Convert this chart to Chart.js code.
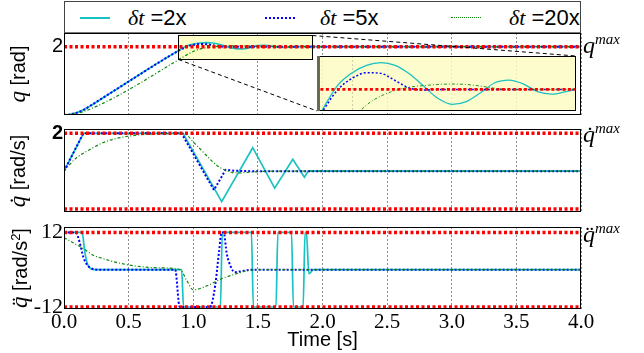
<!DOCTYPE html>
<html>
<head>
<meta charset="utf-8">
<script src="https://cdn.jsdelivr.net/npm/chart.js@4.4.1/dist/chart.umd.min.js"></script>
<style>
  body { margin: 0; width: 644px; height: 353px; position: relative; overflow: hidden; background: #fff;
         font-family: "Liberation Sans", Arial, sans-serif; color: #000; }
  canvas { position: absolute; }
  #legend { position: absolute; left: 64px; top: 1px; width: 517px; height: 33px; box-sizing: border-box;
            border: 1px solid #444; border-bottom: 2px solid #777; }
  .key { position: absolute; top: 15px; width: 30px; height: 0; }
  .lab { position: absolute; top: 3px; font-size: 22px; line-height: 26px; white-space: nowrap; }
  .lab i, .ytitle i, .lim i { font-family: "Liberation Serif", serif; }
  .ytitle { position: absolute; left: 18px; transform: translate(-50%, -50%) rotate(-90deg);
            white-space: nowrap; font-size: 20px; line-height: 22px; }
  .ytitle i { font-size: 23px; }
  .lim { position: absolute; left: 583px; font-family: "Liberation Serif", serif; font-size: 24px; line-height: 24px; }
  .lim sup { font-size: 15px; font-style: italic; vertical-align: 9px; }
</style>
</head>
<body>
<div id="legend">
  <span class="key" style="left:15px;border-top:2px solid #17c2c2"></span>
  <span class="lab" style="left:63px"><i>δt</i> =2x</span>
  <span class="key" style="left:200px;border-top:2px dotted #0000ff"></span>
  <span class="lab" style="left:255px"><i>δt</i> =5x</span>
  <span class="key" style="left:386px;border-top:1.5px dotted #0a8a0a"></span>
  <span class="lab" style="left:444px"><i>δt</i> =20x</span>
</div>

<canvas id="qChart" width="644" height="82" style="left:0;top:33px"></canvas>
<canvas id="qdChart" width="644" height="95" style="left:0;top:117px"></canvas>
<canvas id="qddChart" width="644" height="140" style="left:0;top:213px"></canvas>
<canvas id="inset" width="259" height="55" style="left:317px;top:56px"></canvas>

<div class="ytitle" style="top:74px"><i>q</i> [rad]</div>
<div class="ytitle" style="top:171px"><i>q̇</i> [rad/s]</div>
<div class="ytitle" style="top:268px"><i>q̈</i> [rad/s<sup style="font-size:13px">2</sup>]</div>

<div class="lim" style="top:27px"><i>q</i><sup>max</sup></div>
<div class="lim" style="top:116px"><i>q̇</i><sup>max</sup></div>
<div class="lim" style="top:216px"><i>q̈</i><sup>max</sup></div>

<script>
// time axis
const timeTicks = [0, 0.5, 1, 1.5, 2, 2.5, 3, 3.5, 4];
const seriesNames = ['δt =2x', 'δt =5x', 'δt =20x'];

// joint limits
const qLimits = [2];
const qdLimits = [2, -2];
const qddLimits = [12, -12];

// axis ranges and tick labels
const qRange = [0, 2.4];
const qdRange = [-2.16, 2.23];
const qddRange = [-12.65, 13.75];
const qTicks = [2];
const qdTicks = [2];
const qddTicks = [12, -12];

// zoomed area
const zoomT = [0.88, 1.92];
const zoomQ = [1.64, 2.34];
const insetT = [0.876, 1.785];
const insetQ = [1.903, 2.15];
const insetTicks = [1.0];

// position q
const tPos = [0, 0.05, 0.1, 0.15, 0.2, 0.3, 0.4, 0.5, 0.6, 0.7, 0.8, 0.9, 0.95, 1.0, 1.05, 1.1, 1.15,
              1.2, 1.25, 1.3, 1.35, 1.4, 1.45, 1.5, 1.55, 1.6, 1.65, 1.7, 1.75, 1.8, 1.85, 1.9, 2.0, 4.0];
const q2x = [0, 0.02, 0.07, 0.15, 0.26, 0.50, 0.74, 0.98, 1.22, 1.46, 1.69, 1.92, 2.02, 2.075, 2.108, 2.12, 2.108,
             2.07, 2.015, 1.96, 1.933, 1.945, 1.985, 2.03, 2.042, 2.025, 1.99, 1.979, 1.99, 2.003, 2.006, 2.0, 2.0, 2.0];
const q5x = [0, 0.02, 0.07, 0.15, 0.26, 0.50, 0.74, 0.98, 1.22, 1.46, 1.69, 1.91, 2.0, 2.05, 2.075, 2.072, 2.04,
             2.006, 1.997, 2.0, 2.0, 2.0, 2.0, 2.0, 2.0, 2.0, 2.0, 2.0, 2.0, 2.0, 2.0, 2.0, 2.0, 2.0];
const q20x = [0, 0.012, 0.045, 0.1, 0.17, 0.34, 0.53, 0.74, 0.96, 1.19, 1.42, 1.65, 1.76, 1.86, 1.93, 1.97, 1.995,
              2.01, 2.017, 2.022, 2.024, 2.022, 2.015, 2.005, 1.999, 1.999, 2.0, 2.0, 2.0, 2.0, 2.0, 2.0, 2.0, 2.0];

// velocity qd
const tVel2x = [0, 0.15, 0.92, 1.22, 1.46, 1.63, 1.77, 1.86, 1.89, 4];
const vel2x = [0, 2, 2, -1.61, 1.24, -0.9, 0.63, -0.32, 0, 0];
const tVel5x = [0, 0.15, 0.91, 1.16, 1.25, 1.32, 1.45, 4];
const vel5x = [0, 2, 2, -1.0, 0.07, 0.02, 0, 0];
const tVel20x = [0, 0.05, 0.1, 0.15, 0.2, 0.3, 0.4, 0.5, 0.6, 0.7, 0.8, 0.92, 0.96, 1.0, 1.05, 1.1, 1.15, 1.2,
                 1.25, 1.3, 1.35, 1.45, 1.6, 4];
const vel20x = [0, 0.4, 0.72, 0.95, 1.15, 1.5, 1.72, 1.85, 1.93, 1.97, 1.99, 2, 1.85, 1.55, 1.2, 0.84, 0.5, 0.22,
                0.05, -0.06, -0.09, -0.05, 0, 0];

// acceleration qdd
const tAcc2x = [0, 0.14, 0.16, 0.18, 0.2, 0.23, 0.91, 0.925, 1.21, 1.225, 1.45, 1.465, 1.64, 1.655, 1.76, 1.775,
                1.85, 1.865, 1.875, 1.895, 1.93, 4];
const acc2x = [12, 12, 6, 2, 0.6, 0, 0, -12, -12, 12, 12, -12, -12, 12, 12, -12, -12, 12, 12, -1.3, 0, 0];
const tAcc5x = [0, 0.09, 0.12, 0.15, 0.18, 0.22, 0.26, 0.86, 0.895, 1.13, 1.17, 1.2, 1.22, 1.235, 1.26, 1.29,
                1.32, 1.36, 1.45, 4];
const acc5x = [12, 12, 9, 4, 1.5, 0.3, 0, 0, -12, -12, -5, 6, 12, 12, 5, 1, -0.8, -0.6, 0, 0];
const tAcc20x = [0, 0.05, 0.1, 0.15, 0.23, 0.3, 0.39, 0.52, 0.71, 0.9, 0.95, 1.0, 1.1, 1.22, 1.35, 1.45, 1.55, 4];
const acc20x = [10.3, 9.2, 8.0, 6.8, 4.6, 3.6, 2.5, 1.4, 0.65, 0, -3.5, -6.5, -5.3, -2.9, -1.1, -0.1, 0, 0];

// ---- styles ----
// order: lower is drawn on top (cyan at the back, red limits in front)
const lineStyles = [
  { borderColor: '#17c2c2', borderWidth: 1.7, order: 3 },
  { borderColor: '#0000ff', borderWidth: 2, borderDash: [2, 2], order: 2 },
  { borderColor: '#0a8a0a', borderWidth: 1.2, borderDash: [3, 2, 1, 2], order: 1 }
];
const limitStyle = { borderColor: '#ff0000', borderWidth: 3.5, borderDash: [3, 2.5], order: 0 };

function pts(ts, vs) { return ts.map((t, i) => ({ x: t, y: vs[i] })); }

function buildSets(limits, curves, smooth) {
  const tStart = timeTicks[0], tEnd = timeTicks[timeTicks.length - 1];
  const sets = limits.map(v => Object.assign({ data: [{ x: tStart, y: v }, { x: tEnd, y: v }], pointRadius: 0 }, limitStyle));
  curves.forEach((d, i) => {
    sets.push(Object.assign({
      label: seriesNames[i], data: d, pointRadius: 0,
      tension: smooth[i] ? 0.4 : 0,
      cubicInterpolationMode: smooth[i] ? 'monotone' : 'default'
    }, lineStyles[i]));
  });
  return sets;
}

function zeroPad(s) { s.paddingTop = 0; s.paddingBottom = 0; s.paddingLeft = 0; s.paddingRight = 0; }

// black box around the plot area
const frame = {
  id: 'frame',
  afterDraw(chart, args, opts) {
    const { ctx, chartArea: a } = chart;
    ctx.save();
    ctx.strokeStyle = '#000';
    ctx.lineWidth = 1;
    ctx.strokeRect(a.left + 0.5, a.top + 0.5, a.width - 1, a.height - 1);
    if (opts.leftBand) {
      ctx.strokeStyle = '#6b6b55';
      ctx.lineWidth = 3;
      ctx.beginPath(); ctx.moveTo(a.left + 1.5, a.top); ctx.lineTo(a.left + 1.5, a.bottom); ctx.stroke();
    }
    ctx.restore();
  }
};

// yellow zoom box on q plot + dashed connectors to the inset
const zoomBox = {
  id: 'zoomBox',
  beforeDatasetsDraw(chart) {
    const { ctx, scales: { x, y } } = chart;
    ctx.save();
    ctx.fillStyle = '#fdfdc8';
    ctx.fillRect(x.getPixelForValue(zoomT[0]), y.getPixelForValue(zoomQ[1]),
      x.getPixelForValue(zoomT[1]) - x.getPixelForValue(zoomT[0]), y.getPixelForValue(zoomQ[0]) - y.getPixelForValue(zoomQ[1]));
    ctx.restore();
  },
  afterDatasetsDraw(chart) {
    const { ctx, scales: { x, y }, canvas } = chart;
    const x0 = Math.round(x.getPixelForValue(zoomT[0])) + 0.5, x1 = Math.round(x.getPixelForValue(zoomT[1])) + 0.5;
    const y0 = Math.round(y.getPixelForValue(zoomQ[1])) + 0.5, y1 = Math.round(y.getPixelForValue(zoomQ[0])) + 0.5;
    ctx.save();
    ctx.strokeStyle = '#000';
    ctx.lineWidth = 1;
    ctx.strokeRect(x0, y0, x1 - x0, y1 - y0);
    const ins = document.getElementById('inset');
    const dx = ins.offsetLeft - canvas.offsetLeft, dy = ins.offsetTop - canvas.offsetTop;
    ctx.setLineDash([4, 3]);
    ctx.beginPath();
    ctx.moveTo(x1, y0); ctx.lineTo(dx + ins.width, dy);
    ctx.moveTo(x0, y1); ctx.lineTo(dx, dy + ins.height);
    ctx.stroke();
    ctx.restore();
  }
};

const insetBg = {
  id: 'insetBg',
  beforeDraw(chart) {
    const { ctx, chartArea: a } = chart;
    ctx.save();
    ctx.fillStyle = 'rgba(252,252,196,0.85)';
    ctx.fillRect(a.left, a.top, a.width, a.height);
    ctx.restore();
  }
};

function makeChart(id, sets, range, yTicks, yFont, bottom, padTop, extra) {
  return new Chart(document.getElementById(id), {
    type: 'line',
    data: { datasets: sets },
    options: {
      responsive: false,
      animation: false,
      layout: { padding: { left: 0, right: 63, top: padTop, bottom: 0 } },
      plugins: { legend: { display: false }, tooltip: { enabled: false } },
      scales: {
        x: {
          type: 'linear', min: timeTicks[0], max: timeTicks[timeTicks.length - 1],
          afterBuildTicks: s => { s.ticks = timeTicks.map(v => ({ value: v })); },
          grid: { color: '#8c8c8c', lineWidth: 1, drawTicks: false },
          border: { display: false, dash: [2, 2] },
          ticks: {
            display: bottom, padding: 1, maxRotation: 0, color: '#000',
            font: { family: 'Liberation Serif', size: 21 },
            callback: v => Number(v).toFixed(1)
          },
          title: {
            display: bottom, text: 'Time [s]', color: '#000',
            font: { family: 'Liberation Sans', size: 20 }, padding: { top: 0, bottom: 1 }
          },
          afterFit: s => { s.height = bottom ? 44 : 0; zeroPad(s); }
        },
        y: {
          min: range[0], max: range[1],
          afterBuildTicks: s => { s.ticks = yTicks.map(v => ({ value: v })); },
          grid: { display: false, drawTicks: false },
          border: { display: false },
          ticks: { color: '#000', padding: 1, font: yFont },
          afterFit: s => { s.width = 64; zeroPad(s); }
        }
      }
    },
    plugins: [frame].concat(extra || [])
  });
}

makeChart('qChart',
  buildSets(qLimits, [pts(tPos, q2x), pts(tPos, q5x), pts(tPos, q20x)], [true, true, true]),
  qRange, qTicks, { family: 'Liberation Sans', size: 20 }, false, 0, [zoomBox]);

makeChart('qdChart',
  buildSets(qdLimits, [pts(tVel2x, vel2x), pts(tVel5x, vel5x), pts(tVel20x, vel20x)], [false, false, true]),
  qdRange, qdTicks, { family: 'Liberation Sans', size: 20, weight: 'bold' }, false, 12);

makeChart('qddChart',
  buildSets(qddLimits, [pts(tAcc2x, acc2x), pts(tAcc5x, acc5x), pts(tAcc20x, acc20x)], [true, true, true]),
  qddRange, qddTicks, { family: 'Liberation Serif', size: 22 }, true, 14);

// zoomed inset
const insetSets = buildSets(qLimits, [pts(tPos, q2x), pts(tPos, q5x), pts(tPos, q20x)], [true, true, true]);
insetSets.forEach(s => { s.borderWidth = s.borderWidth * 0.75; });
new Chart(document.getElementById('inset'), {
  type: 'line',
  data: { datasets: insetSets },
  options: {
    responsive: false,
    animation: false,
    layout: { padding: 0 },
    plugins: { legend: { display: false }, tooltip: { enabled: false }, frame: { leftBand: true } },
    scales: {
      x: {
        type: 'linear', min: insetT[0], max: insetT[1],
        afterBuildTicks: s => { s.ticks = insetTicks.map(v => ({ value: v })); },
        grid: { color: '#d0d0a8', drawTicks: false },
        border: { display: false, dash: [2, 2] },
        ticks: { display: false },
        afterFit: s => { s.height = 0; zeroPad(s); }
      },
      y: { display: false, min: insetQ[0], max: insetQ[1] }
    }
  },
  plugins: [insetBg, frame]
});
</script>
</body>
</html>
